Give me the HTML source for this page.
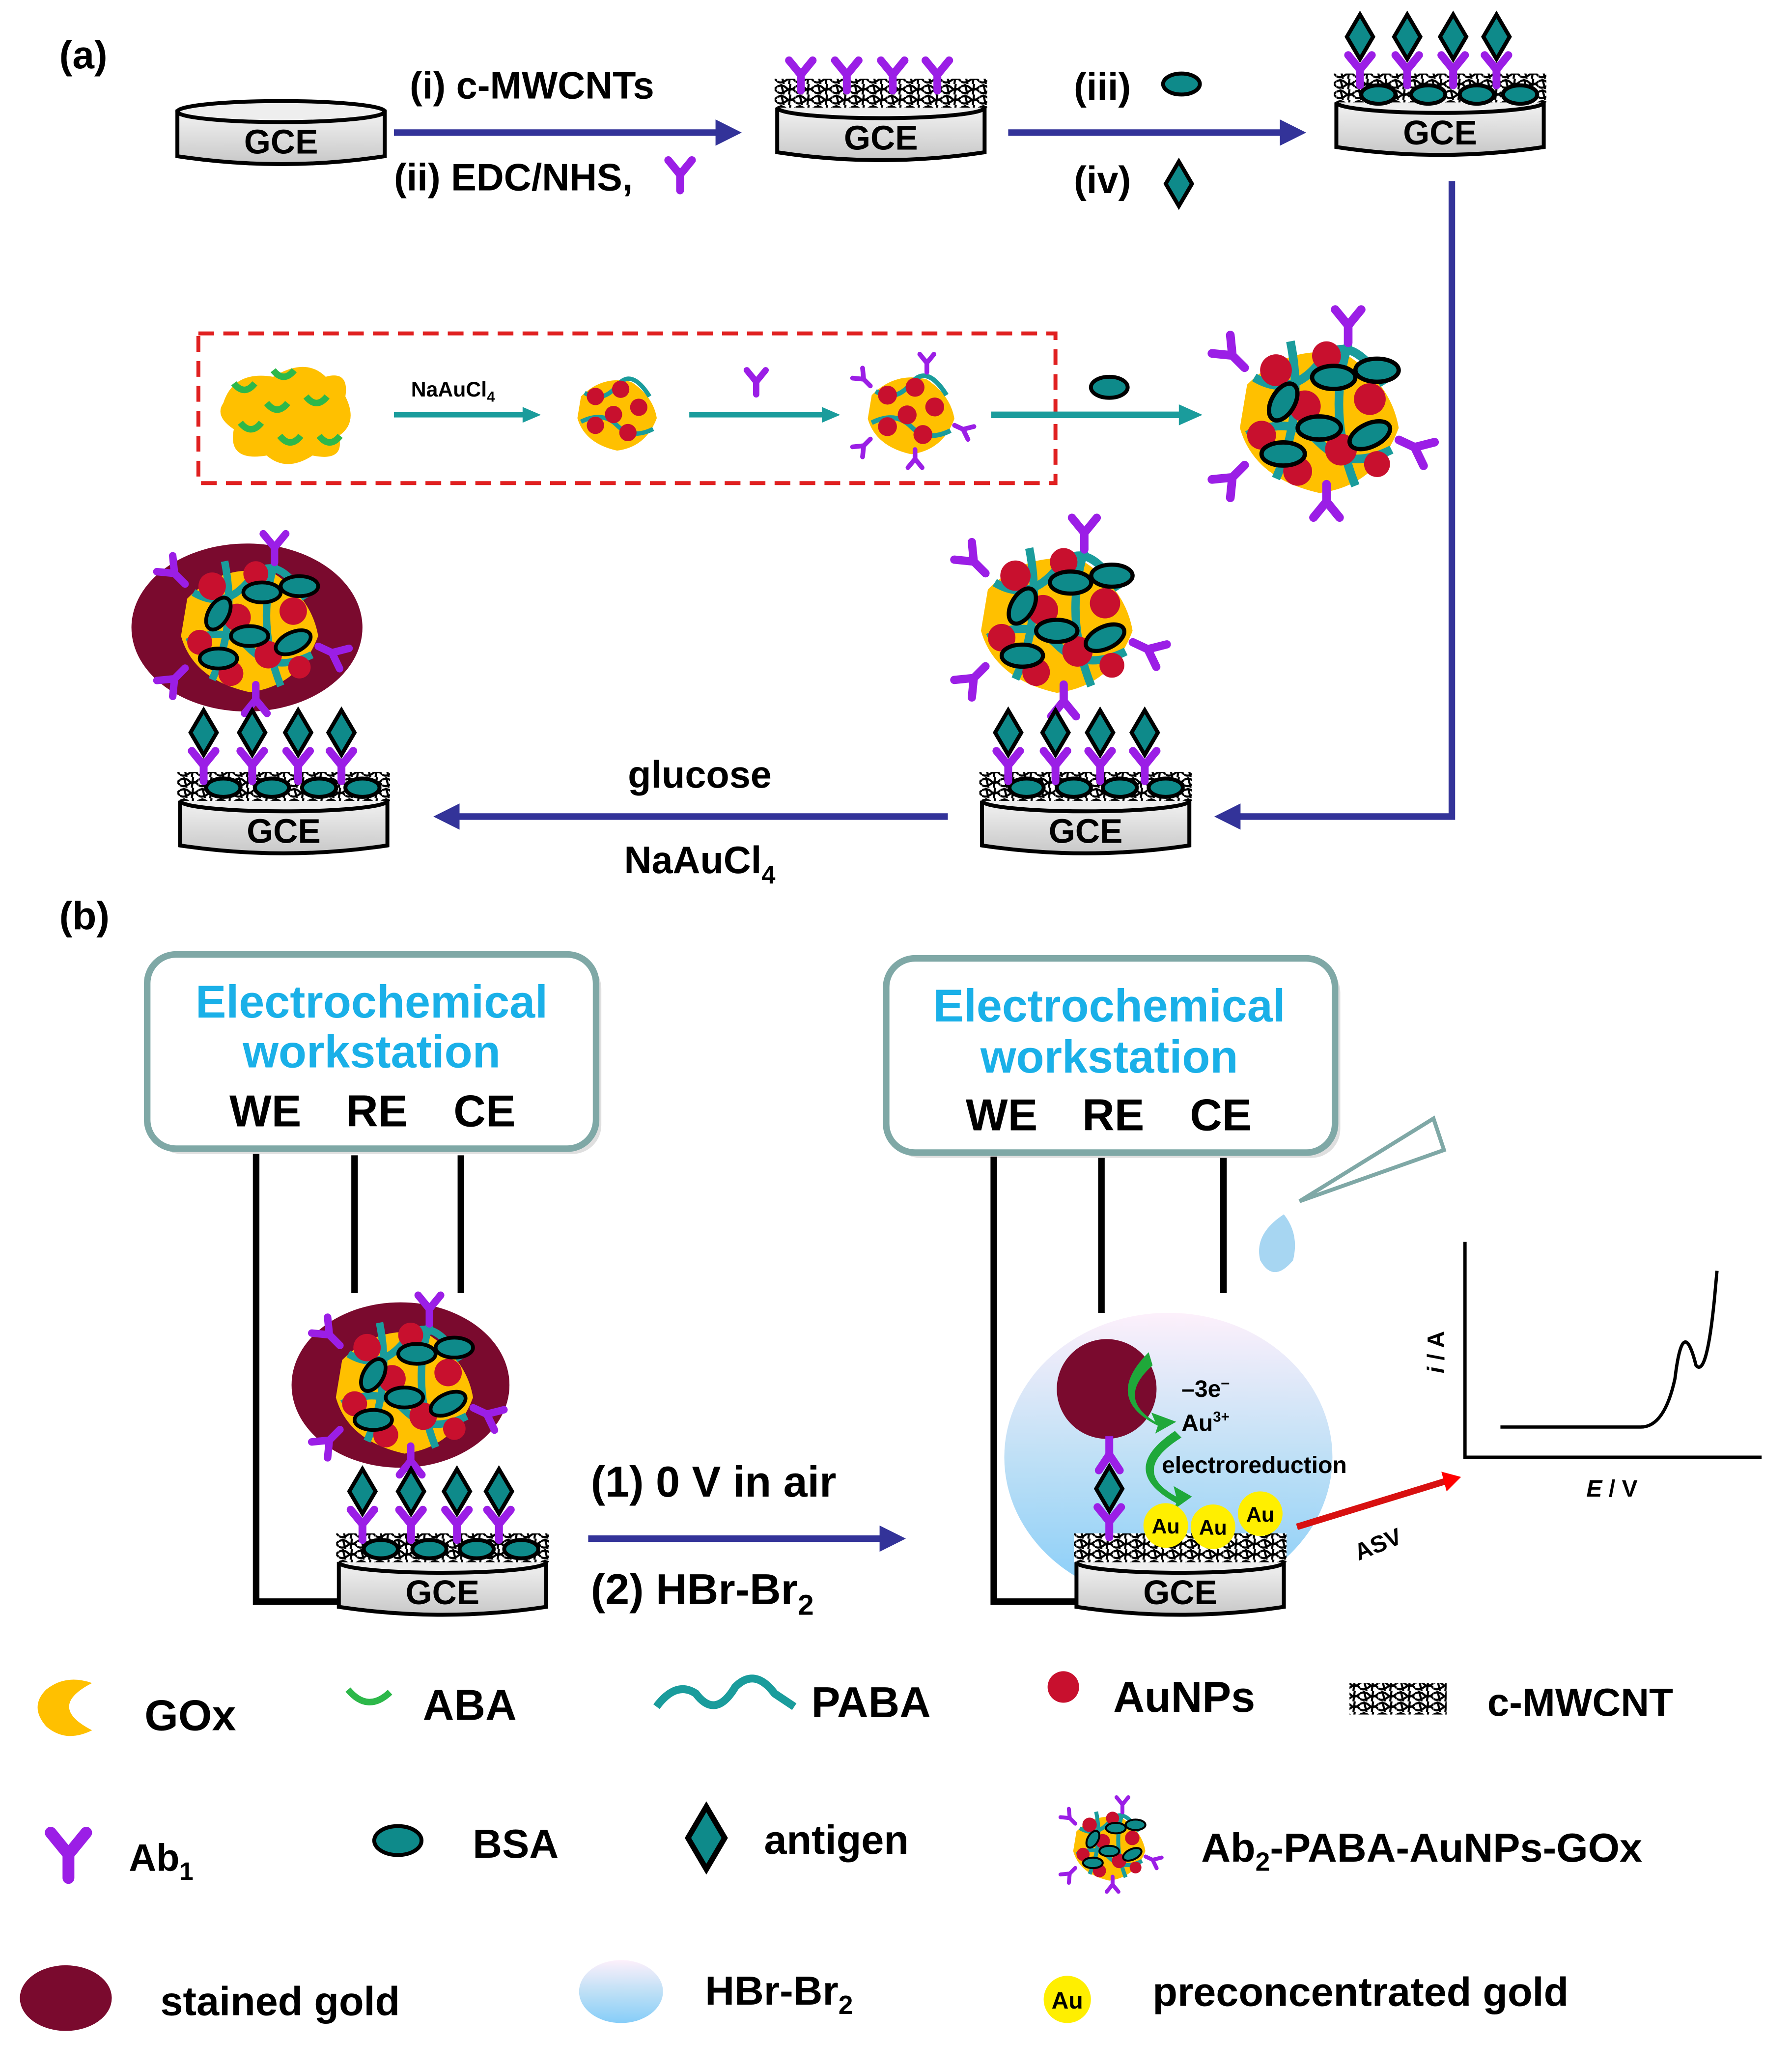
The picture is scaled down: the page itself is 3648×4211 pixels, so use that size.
<!DOCTYPE html>
<html><head><meta charset="utf-8"><style>
html,body{margin:0;padding:0;background:#fff}
svg{display:block}
text{font-family:"Liberation Sans",Arial,sans-serif;font-weight:bold}
</style></head><body>
<svg width="3648" height="4211" viewBox="0 0 1365 1576" xmlns="http://www.w3.org/2000/svg">
<defs>
<linearGradient id="gb" x1="0" y1="0" x2="0" y2="1"><stop offset="0" stop-color="#f2f2f2"/><stop offset="1" stop-color="#c8c8c8"/></linearGradient>
<linearGradient id="bub" x1="0" y1="0" x2="0" y2="1"><stop offset="0" stop-color="#fdf0fb"/><stop offset="0.5" stop-color="#bfe0f6"/><stop offset="1" stop-color="#86cdf8"/></linearGradient>
<pattern id="cnt" width="14" height="8" patternUnits="userSpaceOnUse"><rect width="14" height="8" fill="#fff"/><path d="M0 2 Q4 0 7 3 T14 2 M0 6 Q3 8 7 5 T14 6 M3 0 L5 8 M10 0 L9 8" stroke="#000" stroke-width="1.6" fill="none"/></pattern>
<g id="gce"><path d="M0 10 L0 44 Q79 56 158 44 L158 10 Z" fill="url(#gb)" stroke="#000" stroke-width="3"/><ellipse cx="79" cy="10" rx="79" ry="8" fill="#eee" stroke="#000" stroke-width="3"/><text x="79" y="42" font-size="26" text-anchor="middle" font-weight="normal">GCE</text></g>
<g id="Y"><path d="M-9 0 L0 11 L9 0 M0 11 L0 23" stroke="#9b1ee6" stroke-width="6" stroke-linecap="round" stroke-linejoin="round" fill="none"/></g>
<g id="dia"><path d="M0 -17 L10 0 L0 17 L-10 0 Z" fill="#0e8a8a" stroke="#000" stroke-width="3"/></g>
<g id="bsa"><ellipse rx="14" ry="8" fill="#0e8a8a" stroke="#000" stroke-width="3"/></g>
<g id="layer"><rect x="-2" y="-12" width="162" height="22" fill="url(#cnt)"/></g>
<g id="cl">
<path d="M-50 -20 Q-20 -50 20 -40 Q50 -20 55 10 Q40 50 0 55 Q-45 45 -55 10 Z" fill="#ffc000"/>
<path d="M-45 -25 Q-20 -10 0 -35 T45 -20 M-50 15 Q-20 0 0 20 T50 25 M-20 -50 Q-10 0 -30 45 M20 -48 Q5 0 25 50" stroke="#1a9c9c" stroke-width="6" fill="none"/>
<circle cx="-30" cy="-30" r="11" fill="#c8102e"/><circle cx="5" cy="-40" r="10" fill="#c8102e"/><circle cx="35" cy="-10" r="11" fill="#c8102e"/><circle cx="-10" cy="-5" r="11" fill="#c8102e"/><circle cx="-40" cy="15" r="10" fill="#c8102e"/><circle cx="15" cy="25" r="11" fill="#c8102e"/><circle cx="-15" cy="40" r="10" fill="#c8102e"/><circle cx="40" cy="35" r="9" fill="#c8102e"/>
<ellipse cx="-25" cy="-8" rx="8" ry="14" transform="rotate(30 -25 -8)" fill="#0e8a8a" stroke="#000" stroke-width="3"/>
<ellipse cx="10" cy="-25" rx="15" ry="8" fill="#0e8a8a" stroke="#000" stroke-width="3"/>
<ellipse cx="40" cy="-30" rx="15" ry="8" fill="#0e8a8a" stroke="#000" stroke-width="3"/>
<ellipse cx="0" cy="10" rx="15" ry="8" fill="#0e8a8a" stroke="#000" stroke-width="3"/>
<ellipse cx="-25" cy="28" rx="15" ry="8" fill="#0e8a8a" stroke="#000" stroke-width="3"/>
<ellipse cx="35" cy="15" rx="15" ry="8" transform="rotate(-25 35 15)" fill="#0e8a8a" stroke="#000" stroke-width="3"/>
<g transform="translate(-68 -48) rotate(-45)"><use href="#Y"/></g>
<g transform="translate(20 -72) rotate(0)"><use href="#Y"/></g>
<g transform="translate(76 28) rotate(115)"><use href="#Y"/></g>
<g transform="translate(-68 52) rotate(-135)"><use href="#Y"/></g>
<g transform="translate(5 72) rotate(180)"><use href="#Y"/></g>
</g>
<marker id="ab" markerWidth="4" markerHeight="4" refX="2" refY="2" orient="auto"><path d="M0 0 L4 2 L0 4 Z" fill="#333399"/></marker>
</defs>

<text x="45" y="52" font-size="30">(a)</text>
<use href="#gce" x="135" y="75"/>
<line x1="300" y1="101" x2="555" y2="101" stroke="#333399" stroke-width="5" marker-end="url(#ab)"/>
<text x="312" y="75" font-size="29">(i) c-MWCNTs</text>
<text x="300" y="145" font-size="29">(ii) EDC/NHS,</text>
<g transform="translate(518 122)"><use href="#Y"/></g>

<use href="#gce" x="592" y="72"/>
<use href="#layer" x="592" y="72"/>
<g transform="translate(610 46)"><use href="#Y"/></g><g transform="translate(645 46)"><use href="#Y"/></g><g transform="translate(680 46)"><use href="#Y"/></g><g transform="translate(714 46)"><use href="#Y"/></g>

<line x1="768" y1="101" x2="985" y2="101" stroke="#333399" stroke-width="5" marker-end="url(#ab)"/>
<text x="818" y="76" font-size="29">(iii)</text><use href="#bsa" x="900" y="64"/>
<text x="818" y="147" font-size="29">(iv)</text><use href="#dia" x="898" y="140"/>

<use href="#gce" x="1018" y="68"/>
<use href="#layer" x="1018" y="68"/>
<g fill="#0e8a8a" stroke="#000" stroke-width="3"><ellipse cx="1050" cy="72" rx="13" ry="7"/><ellipse cx="1088" cy="72" rx="13" ry="7"/><ellipse cx="1125" cy="72" rx="13" ry="7"/><ellipse cx="1158" cy="72" rx="13" ry="7"/></g>
<g transform="translate(1036 42)"><use href="#Y"/></g><g transform="translate(1072 42)"><use href="#Y"/></g><g transform="translate(1107 42)"><use href="#Y"/></g><g transform="translate(1140 42)"><use href="#Y"/></g>
<use href="#dia" x="1036" y="28"/><use href="#dia" x="1072" y="28"/><use href="#dia" x="1107" y="28"/><use href="#dia" x="1140" y="28"/>

<polyline points="1106,138 1106,622 935,622" fill="none" stroke="#333399" stroke-width="5" marker-end="url(#ab)"/>

<rect x="151" y="254" width="653" height="114" fill="none" stroke="#e02020" stroke-width="3" stroke-dasharray="12,7"/>
<g transform="translate(218 312)">
<path d="M-48 -5 Q-40 -30 -10 -25 Q15 -40 30 -25 Q48 -30 45 -10 Q55 10 40 20 Q45 40 20 35 Q0 48 -15 35 Q-45 40 -40 15 Q-55 5 -48 -5 Z" fill="#ffc000"/>
<path d="M-40 -20 q8 10 16 0 M-10 -30 q8 10 16 0 M15 -10 q8 10 16 0 M-35 10 q8 10 16 0 M-5 20 q8 10 16 0 M25 20 q8 10 16 0 M-15 -5 q8 10 16 0" stroke="#2db84a" stroke-width="5" fill="none"/>
</g>
<line x1="300" y1="316" x2="400" y2="316" stroke="#1a9c9c" stroke-width="4"/><path d="M398 310 L412 316 L398 322Z" fill="#1a9c9c"/>
<text x="313" y="302" font-size="16">NaAuCl<tspan font-size="11" dy="4">4</tspan></text>
<g transform="translate(470 313) scale(0.55)"><path d="M-50 -20 Q-20 -50 20 -40 Q50 -20 55 10 Q40 50 0 55 Q-45 45 -55 10 Z" fill="#ffc000"/><path d="M-45 -25 Q-20 -10 0 -35 T45 -20 M-50 15 Q-20 0 0 20 T50 25" stroke="#1a9c9c" stroke-width="6" fill="none"/><circle cx="-30" cy="-20" r="12" fill="#c8102e"/><circle cx="5" cy="-30" r="12" fill="#c8102e"/><circle cx="30" cy="-5" r="12" fill="#c8102e"/><circle cx="-5" cy="5" r="12" fill="#c8102e"/><circle cx="-30" cy="20" r="12" fill="#c8102e"/><circle cx="15" cy="30" r="12" fill="#c8102e"/></g>
<line x1="525" y1="316" x2="628" y2="316" stroke="#1a9c9c" stroke-width="4"/><path d="M626 310 L640 316 L626 322Z" fill="#1a9c9c"/>
<g transform="translate(576 282) scale(0.8)"><use href="#Y"/></g>
<g transform="translate(694 313) scale(0.6)"><path d="M-50 -20 Q-20 -50 20 -40 Q50 -20 55 10 Q40 50 0 55 Q-45 45 -55 10 Z" fill="#ffc000"/><path d="M-45 -25 Q-20 -10 0 -35 T45 -20 M-50 15 Q-20 0 0 20 T50 25" stroke="#1a9c9c" stroke-width="6" fill="none"/><circle cx="-30" cy="-20" r="12" fill="#c8102e"/><circle cx="5" cy="-30" r="12" fill="#c8102e"/><circle cx="30" cy="-5" r="12" fill="#c8102e"/><circle cx="-5" cy="5" r="12" fill="#c8102e"/><circle cx="-30" cy="20" r="12" fill="#c8102e"/><circle cx="15" cy="30" r="12" fill="#c8102e"/><g transform="translate(-68 -48) rotate(-45)"><use href="#Y"/></g><g transform="translate(20 -72)"><use href="#Y"/></g><g transform="translate(76 28) rotate(115)"><use href="#Y"/></g><g transform="translate(-68 52) rotate(-135)"><use href="#Y"/></g><g transform="translate(5 72) rotate(180)"><use href="#Y"/></g></g>
<line x1="755" y1="316" x2="900" y2="316" stroke="#1a9c9c" stroke-width="5"/><path d="M898 308 L916 316 L898 324Z" fill="#1a9c9c"/>
<use href="#bsa" x="845" y="295"/>
<g transform="translate(1005 315) scale(1.1)"><use href="#cl"/></g>

<g transform="translate(805 470) scale(1.05)"><use href="#cl"/></g>
<use href="#gce" x="748" y="600"/><use href="#layer" x="748" y="600"/>
<g fill="#0e8a8a" stroke="#000" stroke-width="3"><ellipse cx="782" cy="600" rx="13" ry="7"/><ellipse cx="818" cy="600" rx="13" ry="7"/><ellipse cx="853" cy="600" rx="13" ry="7"/><ellipse cx="888" cy="600" rx="13" ry="7"/></g>
<g transform="translate(768 572)"><use href="#Y"/></g><g transform="translate(804 572)"><use href="#Y"/></g><g transform="translate(838 572)"><use href="#Y"/></g><g transform="translate(872 572)"><use href="#Y"/></g>
<use href="#dia" x="768" y="558"/><use href="#dia" x="804" y="558"/><use href="#dia" x="838" y="558"/><use href="#dia" x="872" y="558"/>

<line x1="722" y1="622" x2="340" y2="622" stroke="#333399" stroke-width="5" marker-end="url(#ab)"/>
<text x="533" y="600" font-size="29" text-anchor="middle">glucose</text>
<text x="533" y="665" font-size="29" text-anchor="middle">NaAuCl<tspan font-size="19" dy="8">4</tspan></text>

<ellipse cx="188" cy="478" rx="88" ry="64" fill="#7a0a2e"/>
<g transform="translate(190 475) scale(0.95)"><use href="#cl"/></g>
<use href="#gce" x="137" y="600"/><use href="#layer" x="137" y="600"/>
<g fill="#0e8a8a" stroke="#000" stroke-width="3"><ellipse cx="170" cy="600" rx="13" ry="7"/><ellipse cx="207" cy="600" rx="13" ry="7"/><ellipse cx="243" cy="600" rx="13" ry="7"/><ellipse cx="276" cy="600" rx="13" ry="7"/></g>
<g transform="translate(155 572)"><use href="#Y"/></g><g transform="translate(192 572)"><use href="#Y"/></g><g transform="translate(227 572)"><use href="#Y"/></g><g transform="translate(260 572)"><use href="#Y"/></g>
<use href="#dia" x="155" y="558"/><use href="#dia" x="192" y="558"/><use href="#dia" x="227" y="558"/><use href="#dia" x="260" y="558"/>

<text x="45" y="708" font-size="30">(b)</text>
<rect x="116" y="731" width="342" height="148" rx="22" fill="#c9c9c9" opacity="0.6"/>
<rect x="112" y="727" width="342" height="148" rx="22" fill="#fff" stroke="#7fa8a6" stroke-width="5"/>
<text x="283" y="775" font-size="35" fill="#1ab0e8" text-anchor="middle">Electrochemical</text>
<text x="283" y="813" font-size="35" fill="#1ab0e8" text-anchor="middle">workstation</text>
<text x="202" y="858" font-size="34" text-anchor="middle">WE</text><text x="287" y="858" font-size="34" text-anchor="middle">RE</text><text x="369" y="858" font-size="34" text-anchor="middle">CE</text>
<polyline points="195,879 195,1220 260,1220" fill="none" stroke="#000" stroke-width="5"/>
<line x1="270" y1="880" x2="270" y2="985" stroke="#000" stroke-width="5"/>
<line x1="351" y1="880" x2="351" y2="985" stroke="#000" stroke-width="5"/>
<ellipse cx="305" cy="1055" rx="83" ry="63" fill="#7a0a2e"/>
<g transform="translate(308 1055) scale(0.95)"><use href="#cl"/></g>
<use href="#gce" x="258" y="1180"/><use href="#layer" x="258" y="1180"/>
<g fill="#0e8a8a" stroke="#000" stroke-width="3"><ellipse cx="290" cy="1180" rx="13" ry="7"/><ellipse cx="327" cy="1180" rx="13" ry="7"/><ellipse cx="363" cy="1180" rx="13" ry="7"/><ellipse cx="397" cy="1180" rx="13" ry="7"/></g>
<g transform="translate(276 1150)"><use href="#Y"/></g><g transform="translate(313 1150)"><use href="#Y"/></g><g transform="translate(348 1150)"><use href="#Y"/></g><g transform="translate(380 1150)"><use href="#Y"/></g>
<use href="#dia" x="276" y="1136"/><use href="#dia" x="313" y="1136"/><use href="#dia" x="348" y="1136"/><use href="#dia" x="380" y="1136"/>

<line x1="448" y1="1172" x2="680" y2="1172" stroke="#333399" stroke-width="5" marker-end="url(#ab)"/>
<text x="450" y="1140" font-size="33">(1) 0 V in air</text>
<text x="450" y="1222" font-size="33">(2) HBr-Br<tspan font-size="22" dy="8">2</tspan></text>

<rect x="679" y="734" width="342" height="148" rx="22" fill="#c9c9c9" opacity="0.6"/>
<rect x="675" y="730" width="342" height="148" rx="22" fill="#fff" stroke="#7fa8a6" stroke-width="5"/>
<text x="845" y="778" font-size="35" fill="#1ab0e8" text-anchor="middle">Electrochemical</text>
<text x="845" y="817" font-size="35" fill="#1ab0e8" text-anchor="middle">workstation</text>
<text x="763" y="861" font-size="34" text-anchor="middle">WE</text><text x="848" y="861" font-size="34" text-anchor="middle">RE</text><text x="930" y="861" font-size="34" text-anchor="middle">CE</text>
<polyline points="757,881 757,1220 822,1220" fill="none" stroke="#000" stroke-width="5"/>
<line x1="839" y1="882" x2="839" y2="1000" stroke="#000" stroke-width="5"/>
<line x1="932" y1="882" x2="932" y2="985" stroke="#000" stroke-width="5"/>
<ellipse cx="890" cy="1110" rx="125" ry="110" fill="url(#bub)"/>
<polygon points="990,915 1092,852 1100,876" fill="#fff" stroke="#7fa8a6" stroke-width="3"/>
<path d="M978 925 Q955 940 960 960 Q970 978 985 960 Q990 940 978 925Z" fill="#a7d6f2"/>
<circle cx="843" cy="1058" r="38" fill="#7a0a2e"/>
<path d="M878 1040 Q850 1065 880 1083 L877 1076 L896 1083 L880 1092 L882 1086 Q840 1065 875 1030 Z" fill="#1fa83a"/>
<path d="M900 1095 Q860 1120 896 1140 L894 1132 L908 1140 L894 1150 L896 1145 Q850 1120 895 1090 Z" fill="#1fa83a"/>
<text x="900" y="1064" font-size="18" font-weight="normal">–3e<tspan font-size="12" dy="-7">–</tspan></text>
<text x="900" y="1090" font-size="18">Au<tspan font-size="11" dy="-7">3+</tspan></text>
<text x="885" y="1122" font-size="18">electroreduction</text>
<use href="#gce" x="820" y="1180"/><use href="#layer" x="820" y="1180"/>
<g transform="translate(845 1148)"><use href="#Y"/></g>
<use href="#dia" x="845" y="1134"/>
<path d="M837 1120 L845 1108 L853 1120" stroke="#9b1ee6" stroke-width="6" fill="none" stroke-linecap="round"/>
<line x1="845" y1="1108" x2="845" y2="1094" stroke="#9b1ee6" stroke-width="6"/>
<g font-size="16" text-anchor="middle"><circle cx="888" cy="1162" r="17" fill="#ffef00"/><text x="888" y="1168">Au</text><circle cx="924" cy="1163" r="17" fill="#ffef00"/><text x="924" y="1169">Au</text><circle cx="960" cy="1153" r="17" fill="#ffef00"/><text x="960" y="1159">Au</text></g>
<line x1="988" y1="1163" x2="1102" y2="1128" stroke="#d81010" stroke-width="5"/><path d="M1098 1121 L1113 1125 L1102 1136Z" fill="#f00"/>
<text x="1052" y="1182" font-size="18" font-weight="normal" transform="rotate(-22 1052 1182)" text-anchor="middle">ASV</text>
<polyline points="1116,946 1116,1110 1342,1110" fill="none" stroke="#000" stroke-width="2.5"/>
<path d="M1143 1087 L1250 1087 Q1268 1087 1276 1050 Q1282 1000 1292 1040 Q1300 1050 1306 990 L1308 968" fill="none" stroke="#000" stroke-width="2.5"/>
<text x="1100" y="1030" font-size="18" transform="rotate(-90 1100 1030)" text-anchor="middle"><tspan font-style="italic">i</tspan> / A</text>
<text x="1228" y="1140" font-size="18" text-anchor="middle"><tspan font-style="italic">E</tspan> / V</text>

<path d="M70 1282 Q35 1300 70 1318 Q50 1328 35 1315 Q22 1300 35 1287 Q50 1275 70 1282Z" fill="#ffc000"/>
<text x="110" y="1318" font-size="33">GOx</text>
<path d="M265 1287 q15 18 32 2" stroke="#2db84a" stroke-width="5" fill="none"/>
<text x="322" y="1310" font-size="33">ABA</text>
<path d="M500 1300 Q515 1280 530 1290 Q545 1310 560 1285 Q575 1270 590 1290 L605 1300" stroke="#1a9c9c" stroke-width="6" fill="none"/>
<text x="618" y="1308" font-size="33">PABA</text>
<circle cx="810" cy="1285" r="12" fill="#c8102e"/>
<text x="848" y="1304" font-size="33">AuNPs</text>
<rect x="1028" y="1282" width="74" height="24" fill="url(#cnt)"/>
<text x="1133" y="1307" font-size="30">c-MWCNT</text>

<g transform="translate(52 1396) scale(1.5)"><use href="#Y"/></g>
<text x="98" y="1425" font-size="29">Ab<tspan font-size="19" dy="7">1</tspan></text>
<ellipse cx="303" cy="1402" rx="18" ry="11" fill="#0e8a8a" stroke="#000" stroke-width="3"/>
<text x="360" y="1415" font-size="31">BSA</text>
<g transform="translate(538 1400) scale(1.4)"><use href="#dia"/></g>
<text x="582" y="1412" font-size="31">antigen</text>
<g transform="translate(845 1405) scale(0.5)"><use href="#cl"/></g>
<text x="915" y="1418" font-size="31">Ab<tspan font-size="20" dy="7">2</tspan><tspan dy="-7">-PABA-AuNPs-GOx</tspan></text>

<ellipse cx="50" cy="1522" rx="35" ry="25" fill="#7a0a2e"/>
<text x="122" y="1535" font-size="31">stained gold</text>
<ellipse cx="473" cy="1517" rx="32" ry="24" fill="url(#bub)"/>
<text x="537" y="1527" font-size="31">HBr-Br<tspan font-size="20" dy="7">2</tspan></text>
<circle cx="813" cy="1523" r="18" fill="#ffef00"/><text x="813" y="1530" font-size="18" text-anchor="middle">Au</text>
<text x="878" y="1528" font-size="31">preconcentrated gold</text>
</svg>
</body></html>
